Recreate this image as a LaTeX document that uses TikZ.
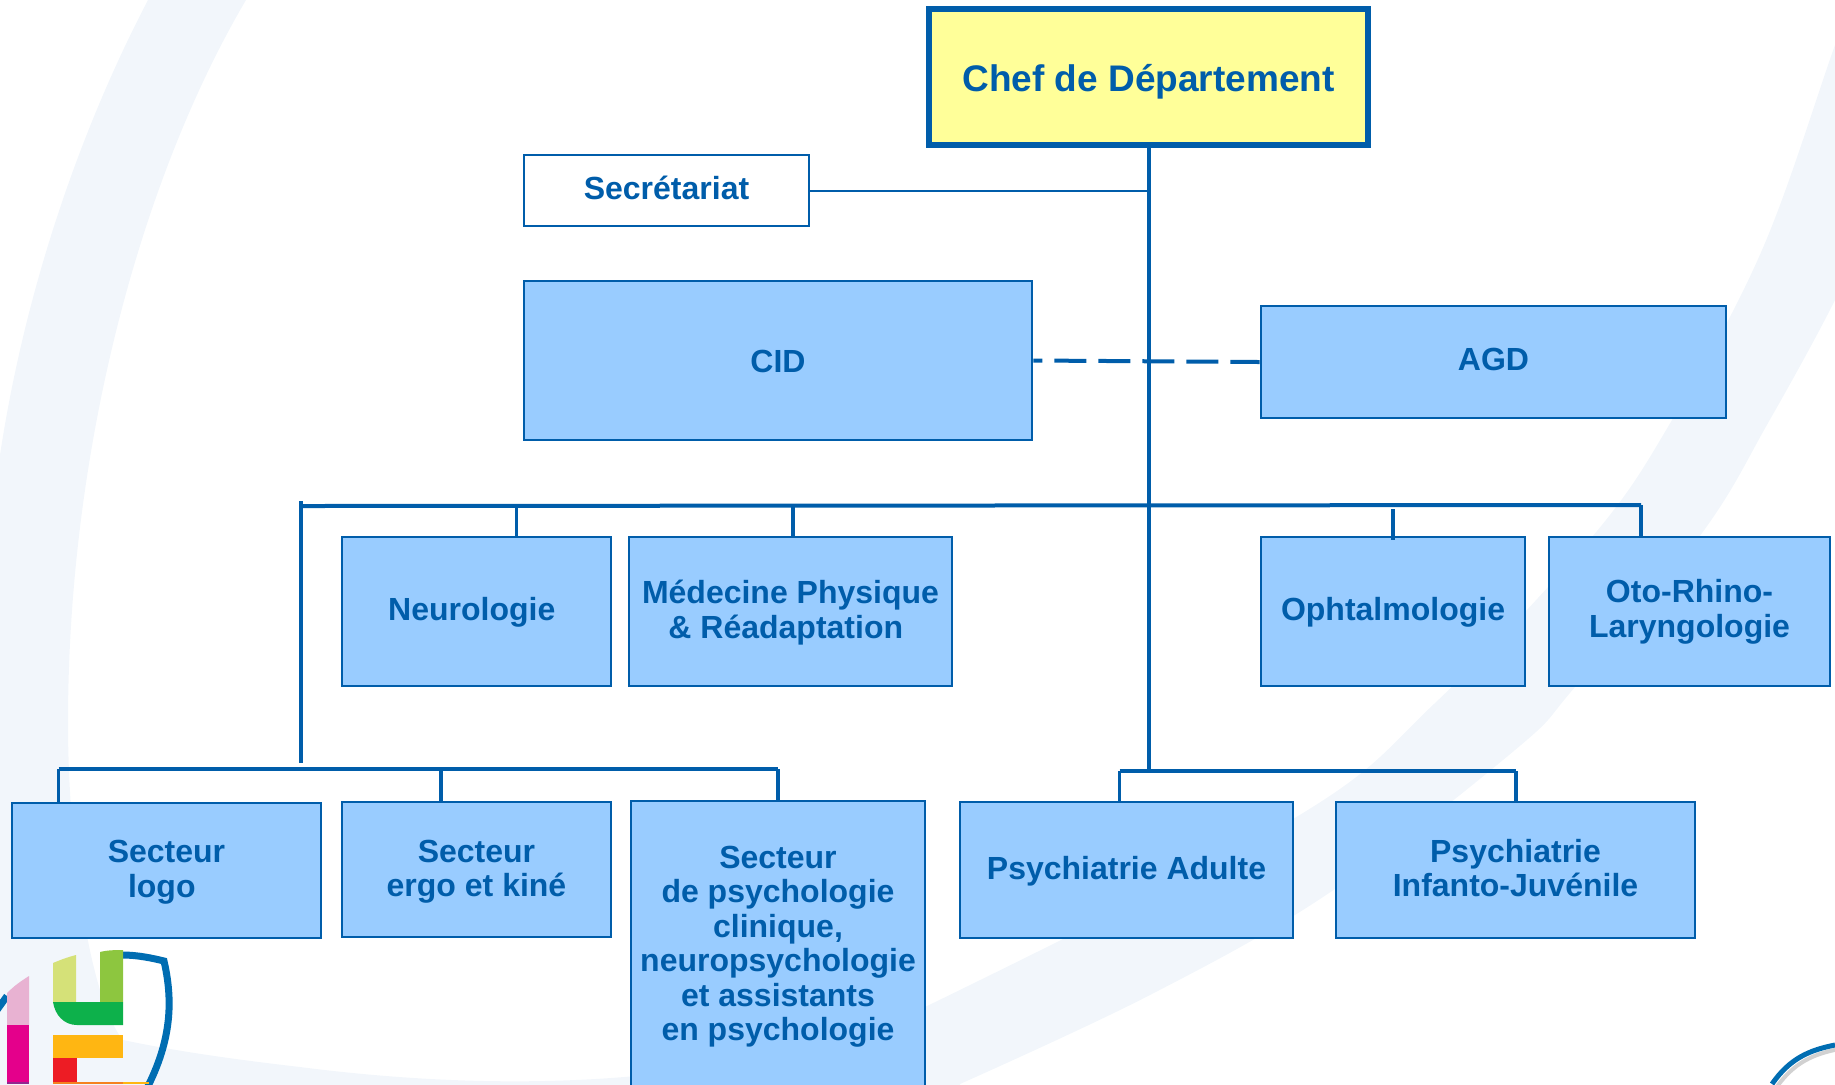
\documentclass[tikz,border=0pt]{standalone}
\usepackage{fontspec}
\setmainfont{Liberation Sans}
\definecolor{blu}{HTML}{005DAA}
\definecolor{fillb}{HTML}{99CCFF}
\definecolor{band}{HTML}{F2F6FB}
\definecolor{chefy}{HTML}{FFFF99}
\newcommand{\obox}[7][orgbox]{%
  \pgfmathsetmacro{\cxx}{(#3+#5)/2}\pgfmathsetmacro{\cyy}{(#4+#6)/2}%
  \pgfmathsetmacro{\www}{(#5-#3)*0.5}\pgfmathsetmacro{\hhh}{(#6-#4)*0.5}%
  \node[#1,minimum width=\www pt,minimum height=\hhh pt] (#2) at (\cxx,\cyy) {#7};}
% shift a text down or up inside its box, without moving the box
\newcommand{\tdn}[2]{\raisebox{0pt}[\dimexpr\height+2\dimexpr#1\relax\relax][\depth]{#2}}
\newcommand{\tup}[2]{\raisebox{0pt}[\height][\dimexpr\depth+2\dimexpr#1\relax\relax]{#2}}
\newcommand{\lines}[1]{\begin{tabular}{@{}c@{}}#1\end{tabular}}
\tikzset{
  x=0.5pt,y=-0.5pt,
  orgbox/.style={draw=blu,fill=fillb,line width=1.35pt,inner sep=0pt,align=center,text=blu,
    font=\fontsize{16}{17.25}\selectfont\bfseries},
  whitebox/.style={orgbox,fill=white},
  chefbox/.style={orgbox,fill=chefy,line width=2.75pt,font=\fontsize{18.5}{20}\selectfont\bfseries},
  trunk/.style={draw=blu,line width=2pt},
  link/.style={draw=blu,line width=1.9pt},
  thin link/.style={draw=blu,line width=1pt},
  dashlink/.style={draw=blu,line width=2pt,dash pattern=on 16pt off 6pt,dash phase=11.5pt},
}
\begin{document}
\begin{tikzpicture}
\useasboundingbox (0,0) rectangle (1835,1084);
\begin{scope}
\clip (0,0) rectangle (1835,1084);
% background ring
\fill[band] (148,0) .. controls (80,130) and (25,290) .. (0,455)
  -- (-40,700) -- (-40,1130) -- (960,1130) -- (960,1084)
  -- plot[smooth,tension=0.6] coordinates {(960,1084) (1150,995) (1329,893) (1515,750) (1575,687) (1702,533) (1768,423) (1835,300) (1880,200)}
  -- plot[smooth,tension=0.6] coordinates {(1870,-50) (1835,45) (1762,250) (1672,420) (1592,537) (1435,703) (1293,819) (927,1006)}
  .. controls (720,1095) and (480,1090) .. (300,1067)
  .. controls (240,1060) and (180,1052) .. (123,1040)
  .. controls (90,1000) and (68,850) .. (68,723)
  .. controls (68,450) and (140,180) .. (246,0)
  -- cycle;
% logo
\draw[draw=blu!90!cyan,line width=3.5pt,line join=miter] (123,955) .. controls (137,955) and (152,958) .. (164,961) .. controls (173,1000) and (172,1040) .. (146,1090);
\draw[draw=blu!90!cyan,line width=3.5pt] (-3,1010) -- (7,996);
\fill[fill={rgb,255:red,213;green,225;blue,120}] (53,963) .. controls (60,960) and (68,957) .. (76,955) -- (76,1002) -- (53,1002) -- cycle;
\fill[fill={rgb,255:red,141;green,198;blue,63}] (100,952) .. controls (108,950) and (116,950) .. (123,950) -- (123,1002) -- (100,1002) -- cycle;
\fill[fill={rgb,255:red,13;green,177;blue,75}] (53,1002) -- (123,1002) -- (123,1025) -- (77,1025) .. controls (64,1025) and (55,1015) .. (53,1002) -- cycle;
\fill[fill={rgb,255:red,255;green,182;blue,18}] (53,1035) rectangle (123,1058);
\fill[fill={rgb,255:red,237;green,28;blue,36}] (53,1058) rectangle (77,1082);
\fill[fill={rgb,255:red,245;green,130;blue,32}] (53,1082) rectangle (123,1084);
\fill[fill={rgb,255:red,255;green,182;blue,18}] (123,1082) rectangle (149,1084);
\fill[fill={rgb,255:red,232;green,178;blue,210}] (7,993) .. controls (14,986) and (21,981) .. (29,976) -- (29,1025) -- (7,1025) -- cycle;
\fill[fill={rgb,255:red,228;green,0;blue,139}] (7,1025) rectangle (29,1082);
\fill[fill={rgb,255:red,146;green,39;blue,143}] (7,1082) rectangle (29,1084);
% corner arc
\draw[draw=black!18,line width=2pt] (1776,1088) .. controls (1794,1062) and (1814,1054) .. (1839,1049);
\draw[draw=blu!90!cyan,line width=2.5pt] (1772,1084) .. controls (1790,1058) and (1810,1050) .. (1835,1045);
\end{scope}

% boxes
\obox[chefbox]{chef}{929}{9}{1368}{145}{\tdn{2.35pt}{Chef de Département}}
\obox[whitebox]{sec}{524}{155}{809}{226}{\tup{1.2pt}{Secrétariat}}
\obox{cid}{524}{281}{1032}{440}{\tdn{0.6pt}{CID}}
\obox{agd}{1261}{306}{1726}{418}{\tup{1.2pt}{AGD}}
\obox{neuro}{342}{537}{611}{686}{\tdn{0.6pt}{Neurologie\hspace{4.7pt}}}
\obox{mpr}{629}{537}{952}{686}{\tdn{1.2pt}{\lines{Médecine Physique\\\& Réadaptation\hspace*{4.7pt}}}}
\obox{oph}{1261}{537}{1525}{686}{\tdn{0.6pt}{Ophtalmologie}}
\obox{orl}{1549}{537}{1830}{686}{\tdn{0.9pt}{\lines{Oto-Rhino-\\Laryngologie}}}
\obox{logo}{12}{803}{321}{938}{\tdn{1.4pt}{\lines{Secteur\\logo\hspace*{4.7pt}}}}
\obox{ergo}{342}{802}{611}{937}{\tdn{1.5pt}{\lines{Secteur\\ergo et kiné}}}
\obox{psy}{631}{801}{925}{1092}{Secteur\\de psychologie\\clinique,\\neuropsychologie\\et assistants\\en psychologie}
\obox{adu}{960}{802}{1293}{938}{\tdn{0.6pt}{Psychiatrie Adulte}}
\obox{inf}{1336}{802}{1695}{938}{\tdn{1.4pt}{\lines{Psychiatrie\\Infanto-Juvénile}}}

% junctions
\coordinate (trunkEnd) at (chef.south |- 0,769);
\coordinate (busL) at (301,506);
\coordinate (busR) at (1641,505);
\coordinate (busN) at (516.5,506);
\coordinate (busP) at (793,506);
\coordinate (busO) at (1393,509);
\coordinate (leftEnd) at (301,763);
\coordinate (leftTop) at (301,501);
\coordinate (lowL) at (58.5,769);
\coordinate (lowE) at (441,769);
\coordinate (lowP) at (778,769);
\coordinate (rigL) at (1119.5,771);
\coordinate (rigR) at (1516,771);
\coordinate (ophEnd) at (1393,540);

% connectors
\draw[trunk] (chef.south) -- (trunkEnd);
\draw[thin link] (sec.east) -- (sec.east -| chef.south);
\draw[dashlink] (cid.east) -- (agd.west);
\draw[trunk] (busL) -- (busR);
\draw[trunk] (leftTop) -- (leftEnd);
\draw[link] (busN) -- (busN |- neuro.north);
\draw[link] (busP) -- (busP |- mpr.north);
\draw[link] (busO) -- (ophEnd);
\draw[link] (busR) -- (busR |- orl.north);
\draw[trunk] (lowL) -- (lowP);
\draw[link] (lowL) -- (lowL |- logo.north);
\draw[link] (lowE) -- (lowE |- ergo.north);
\draw[link] (lowP) -- (lowP |- psy.north);
\draw[trunk] (rigL) -- (rigR);
\draw[link] (rigL) -- (rigL |- adu.north);
\draw[link] (rigR) -- (rigR |- inf.north);
\end{tikzpicture}
\end{document}
